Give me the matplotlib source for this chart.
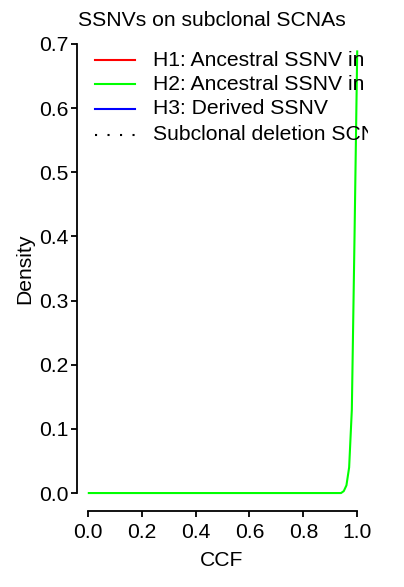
import matplotlib
matplotlib.use("Agg")
import matplotlib.pyplot as plt

plt.rcParams['font.family'] = ['Liberation Sans', 'DejaVu Sans']

# Data
ccf = [0.0, 0.1, 0.2, 0.3, 0.4, 0.5, 0.6, 0.7, 0.8, 0.9, 0.94, 0.95, 0.96, 0.97, 0.98, 0.99, 1.0]
density_h2 = [0.0, 0.0, 0.0, 0.0, 0.0, 0.0, 0.0, 0.0, 0.0, 0.0, 0.0, 0.003, 0.012, 0.04, 0.13, 0.40, 0.69]

legend_labels = ["H1: Ancestral SSNV in", "H2: Ancestral SSNV in", "H3: Derived SSNV",
                 "Subclonal deletion SCNA"]
legend_colors = ["#FF0000", "#00FF00", "#0000FF", "#000000"]
legend_styles = ["-", "-", "-", (0, (1, 5))]

xticks = [0.0, 0.2, 0.4, 0.6, 0.8, 1.0]
yticks = [0.0, 0.1, 0.2, 0.3, 0.4, 0.5, 0.6, 0.7]

FS = 15.2
W, H = 404, 587
fig = plt.figure(figsize=(W / 100, H / 100), dpi=100)
L, R, T, B = 77, 368, 26, 511
ax = fig.add_axes([L / W, 1 - B / H, (R - L) / W, (B - T) / H])

ax.plot(ccf, density_h2, color="#00FF00", lw=1.5, solid_capstyle="butt")

ax.set_xlim(-0.04, 1.04)
ax.set_ylim(-0.028, 0.728)

for s in ["top", "right"]:
    ax.spines[s].set_visible(False)
ax.spines["left"].set_bounds(0, 0.7)
ax.spines["bottom"].set_bounds(0, 1.0)
for s in ["left", "bottom"]:
    ax.spines[s].set_linewidth(1.3)

ax.set_xticks(xticks)
ax.set_xticklabels([f"{v:.1f}" for v in xticks])
ax.set_yticks(yticks)
ax.set_yticklabels([f"{v:.1f}" for v in yticks])
ax.tick_params(axis="both", direction="out", length=4, width=1.3, labelsize=FS)
ax.tick_params(axis="x", pad=5)
ax.tick_params(axis="y", pad=2)

ax.set_xlabel("CCF", fontsize=FS)
ax.xaxis.set_label_coords((221.5 - L) / (R - L), (B - 561) / (B - T), transform=ax.transAxes)
ax.xaxis.label.set_verticalalignment("center")
ax.set_ylabel("Density", fontsize=FS)
ax.yaxis.set_label_coords((25 - L) / (R - L), 0.5)
ax.yaxis.label.set_verticalalignment("center")

fig.text(212 / W, 1 - 21 / H, "SSNVs on subclonal SCNAs", ha="center", va="center", fontsize=FS)

# Legend drawn manually so it is clipped by the plot region
row_y = [60, 84, 109, 135]
for lab, col, ls, yy in zip(legend_labels, legend_colors, legend_styles, row_y):
    ya = (B - yy) / (B - T)
    ax.plot([(95 - L) / (R - L), (135 - L) / (R - L)], [ya, ya], transform=ax.transAxes,
            color=col, lw=1.5, linestyle=ls, clip_on=False)
    ax.text((153 - L) / (R - L), ya, lab, transform=ax.transAxes, fontsize=FS,
            ha="left", va="center", clip_on=True)

fig.savefig("out.png", dpi=100)
